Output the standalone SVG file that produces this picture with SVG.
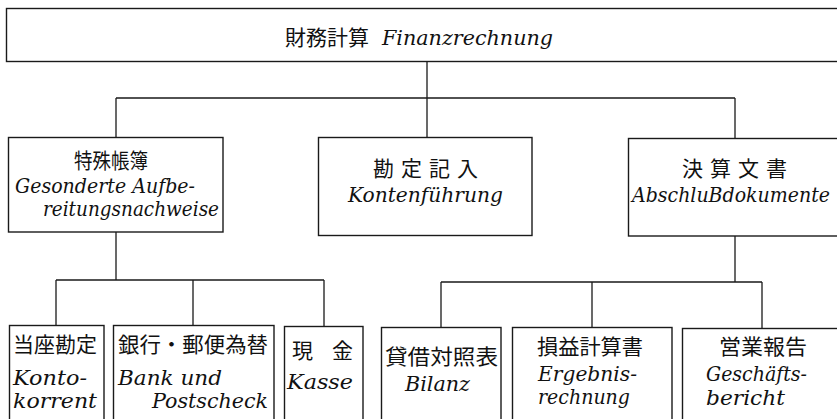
<svg xmlns="http://www.w3.org/2000/svg" width="837" height="419" viewBox="0 0 837 419">
<style>
.box{fill:#fff;stroke:#1a1a1a;stroke-width:1.4}
.ln{fill:none;stroke:#1a1a1a;stroke-width:1.3}
.cn{font-family:"Noto Sans CJK JP","Noto Sans CJK SC",sans-serif;font-size:21px;fill:#111}
.la{font-family:"DejaVu Serif","Liberation Serif",serif;font-style:italic;font-size:20px;fill:#111}
</style>
<rect width="837" height="419" fill="#fff"/>
<g id="connectors">
<path class="ln" d="M427 61V98M116 98H735M116 98V137M427 98V137M735 98V138"/>
<path class="ln" d="M116 232V280M56 280H324M56 280V325M193 280V325M324 280V326"/>
<path class="ln" d="M735 236V282M441 282H762M441 282V327M592 282V327M762 282V328"/>
</g>
<g id="n-finanz">
<rect class="box" x="6.5" y="8.5" width="840" height="53"/>
<text class="cn" x="285" y="45" font-size="22">財務計算</text>
<text class="la" x="382" y="45" textLength="171" lengthAdjust="spacingAndGlyphs">Finanzrechnung</text>
</g>
<g id="n-sonder">
<rect class="box" x="8.5" y="137.5" width="214.5" height="94.5"/>
<text class="cn" x="74" y="168" font-size="19" textLength="74" lengthAdjust="spacingAndGlyphs">特殊帳簿</text>
<text class="la" x="15" y="193" textLength="180" lengthAdjust="spacingAndGlyphs">Gesonderte Aufbe-</text>
<text class="la" x="43" y="216" textLength="176" lengthAdjust="spacingAndGlyphs">reitungsnachweise</text>
</g>
<g id="n-konten">
<rect class="box" x="318.5" y="137.5" width="213.5" height="98"/>
<text class="cn" x="373 401 429 457" y="176" font-size="20">勘定記入</text>
<text class="la" x="348" y="202" textLength="155" lengthAdjust="spacingAndGlyphs">Kontenführung</text>
</g>
<g id="n-abschluss">
<rect class="box" x="628.5" y="138.5" width="220" height="97.5"/>
<text class="cn" x="682 710 738 766" y="176" font-size="20">決算文書</text>
<text class="la" x="632" y="202" textLength="198" lengthAdjust="spacingAndGlyphs">AbschluBdokumente</text>
</g>
<g id="n-kontokorrent">
<rect class="box" x="9.5" y="325.5" width="94.5" height="110"/>
<text class="cn" x="13" y="352" textLength="84" lengthAdjust="spacingAndGlyphs">当座勘定</text>
<text class="la" x="13" y="385" textLength="74" lengthAdjust="spacingAndGlyphs">Konto-</text>
<text class="la" x="13" y="408" textLength="84" lengthAdjust="spacingAndGlyphs">korrent</text>
</g>
<g id="n-bank">
<rect class="box" x="113.5" y="325.5" width="160.5" height="110"/>
<text class="cn" x="118" y="352" textLength="150" lengthAdjust="spacingAndGlyphs">銀行・郵便為替</text>
<text class="la" x="118" y="385" textLength="104" lengthAdjust="spacingAndGlyphs">Bank und</text>
<text class="la" x="152" y="408" textLength="116" lengthAdjust="spacingAndGlyphs">Postscheck</text>
</g>
<g id="n-kasse">
<rect class="box" x="284.5" y="326.5" width="78.5" height="110"/>
<text class="cn" x="292 332" y="358">現金</text>
<text class="la" x="287" y="389" textLength="66" lengthAdjust="spacingAndGlyphs">Kasse</text>
</g>
<g id="n-bilanz">
<rect class="box" x="381.5" y="327.5" width="119.5" height="110"/>
<text class="cn" x="385" y="364" textLength="113" lengthAdjust="spacingAndGlyphs">貸借対照表</text>
<text class="la" x="405" y="391" textLength="65" lengthAdjust="spacingAndGlyphs">Bilanz</text>
</g>
<g id="n-ergebnis">
<rect class="box" x="512.5" y="327.5" width="159.5" height="110"/>
<text class="cn" x="537" y="354" textLength="106" lengthAdjust="spacingAndGlyphs">損益計算書</text>
<text class="la" x="538" y="381" textLength="99" lengthAdjust="spacingAndGlyphs">Ergebnis-</text>
<text class="la" x="538" y="404" textLength="92" lengthAdjust="spacingAndGlyphs">rechnung</text>
</g>
<g id="n-geschaeft">
<rect class="box" x="682.5" y="328.5" width="170" height="110"/>
<text class="cn" x="719" y="354" textLength="88" lengthAdjust="spacingAndGlyphs">営業報告</text>
<text class="la" x="706" y="381" textLength="101" lengthAdjust="spacingAndGlyphs">Geschäfts-</text>
<text class="la" x="706" y="405" textLength="79" lengthAdjust="spacingAndGlyphs">bericht</text>
</g>
</svg>
